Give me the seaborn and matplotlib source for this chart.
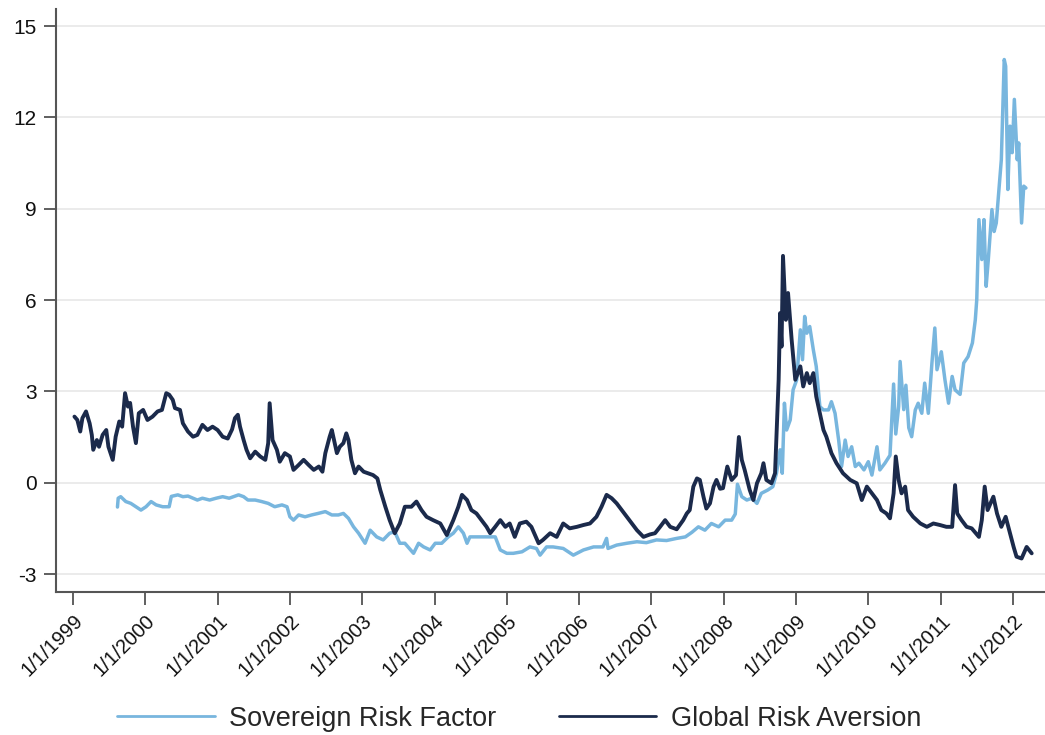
import numpy as np
import pandas as pd
import matplotlib
matplotlib.use("Agg")
import matplotlib.pyplot as plt
import seaborn as sns

# Global Risk Aversion (decimal year, index value)
gra_t = [1999.02, 1999.06, 1999.10, 1999.13, 1999.18, 1999.23, 1999.26, 1999.28, 1999.33, 1999.36,
         1999.41, 1999.46, 1999.49, 1999.55, 1999.59, 1999.64, 1999.68, 1999.72, 1999.76, 1999.79,
         1999.83, 1999.87, 1999.91, 1999.97, 2000.03, 2000.10, 2000.17, 2000.23, 2000.29, 2000.33,
         2000.38, 2000.41, 2000.48, 2000.52, 2000.59, 2000.66, 2000.72, 2000.79, 2000.86, 2000.93,
         2001.00, 2001.07, 2001.14, 2001.20, 2001.24, 2001.28, 2001.31, 2001.36, 2001.40, 2001.45,
         2001.52, 2001.59, 2001.66, 2001.70, 2001.72, 2001.76, 2001.82, 2001.86, 2001.93, 2002.00,
         2002.05, 2002.12, 2002.19, 2002.26, 2002.33, 2002.40, 2002.45, 2002.49, 2002.55, 2002.58,
         2002.62, 2002.65, 2002.69, 2002.74, 2002.78, 2002.81, 2002.85, 2002.90, 2002.95, 2003.02,
         2003.08, 2003.15, 2003.21, 2003.25, 2003.32, 2003.38, 2003.45, 2003.52, 2003.59, 2003.68,
         2003.75, 2003.82, 2003.89, 2003.98, 2004.08, 2004.17, 2004.26, 2004.33, 2004.38, 2004.45,
         2004.51, 2004.58, 2004.65, 2004.72, 2004.77, 2004.84, 2004.91, 2004.98, 2005.04, 2005.11,
         2005.18, 2005.27, 2005.34, 2005.44, 2005.50, 2005.60, 2005.69, 2005.78, 2005.87, 2005.97,
         2006.06, 2006.15, 2006.24, 2006.31, 2006.38, 2006.45, 2006.52, 2006.59, 2006.66, 2006.73,
         2006.80, 2006.89, 2006.98, 2007.05, 2007.12, 2007.19, 2007.26, 2007.35, 2007.44, 2007.49,
         2007.53, 2007.58, 2007.63, 2007.67, 2007.72, 2007.76, 2007.81, 2007.86, 2007.90, 2007.95,
         2007.99, 2008.05, 2008.11, 2008.17, 2008.21, 2008.25, 2008.29, 2008.36, 2008.41, 2008.46,
         2008.52, 2008.55, 2008.59, 2008.66, 2008.71, 2008.76, 2008.78, 2008.80, 2008.82, 2008.86,
         2008.89, 2008.94, 2008.99, 2009.06, 2009.10, 2009.15, 2009.19, 2009.24, 2009.28, 2009.33,
         2009.38, 2009.42, 2009.49, 2009.56, 2009.65, 2009.75, 2009.84, 2009.91, 2009.98, 2010.05,
         2010.12, 2010.18, 2010.25, 2010.30, 2010.35, 2010.38, 2010.42, 2010.46, 2010.51, 2010.55,
         2010.62, 2010.72, 2010.81, 2010.90, 2010.99, 2011.08, 2011.16, 2011.20, 2011.23, 2011.29,
         2011.36, 2011.43, 2011.53, 2011.57, 2011.61, 2011.65, 2011.69, 2011.73, 2011.78, 2011.84,
         2011.90, 2011.96, 2012.01, 2012.05, 2012.12, 2012.19, 2012.26]
gra_v = [2.17, 2.06, 1.68, 2.12, 2.34, 1.95, 1.57, 1.08, 1.40, 1.18,
         1.57, 1.73, 1.18, 0.75, 1.51, 2.01, 1.84, 2.94, 2.50, 2.62,
         1.84, 1.30, 2.28, 2.39, 2.06, 2.17, 2.34, 2.39, 2.94, 2.89,
         2.72, 2.45, 2.39, 1.95, 1.68, 1.51, 1.57, 1.90, 1.73, 1.84,
         1.73, 1.51, 1.45, 1.75, 2.12, 2.23, 1.84, 1.40, 1.08, 0.80,
         1.02, 0.86, 0.75, 1.30, 2.61, 1.40, 1.08, 0.69, 0.97, 0.86,
         0.42, 0.58, 0.75, 0.58, 0.42, 0.53, 0.36, 0.97, 1.51, 1.73,
         1.30, 0.97, 1.18, 1.30, 1.62, 1.40, 0.75, 0.31, 0.53, 0.36,
         0.31, 0.25, 0.14, -0.24, -0.79, -1.23, -1.66, -1.34, -0.79, -0.79,
         -0.62, -0.90, -1.12, -1.23, -1.34, -1.72, -1.23, -0.79, -0.40, -0.57,
         -0.90, -1.01, -1.23, -1.45, -1.66, -1.45, -1.23, -1.45, -1.34, -1.78,
         -1.34, -1.28, -1.45, -1.99, -1.88, -1.66, -1.78, -1.34, -1.50, -1.45,
         -1.39, -1.34, -1.12, -0.79, -0.40, -0.51, -0.68, -0.90, -1.12, -1.34,
         -1.56, -1.78, -1.70, -1.66, -1.45, -1.23, -1.45, -1.53, -1.23, -1.01,
         -0.90, -0.13, 0.14, 0.09, -0.46, -0.85, -0.68, -0.13, 0.09, -0.20,
         -0.18, 0.53, 0.09, 0.25, 1.50, 0.75, 0.42, -0.24, -0.57, -0.02,
         0.31, 0.64, 0.09, -0.02, 0.31, 3.38, 5.57, 4.47, 7.45, 5.35,
         6.23, 4.69, 3.38, 3.82, 3.16, 3.60, 3.27, 3.60, 2.83, 2.28,
         1.73, 1.51, 0.97, 0.64, 0.31, 0.09, -0.02, -0.57, -0.13, -0.35,
         -0.57, -0.90, -1.01, -1.17, -0.35, 0.86, 0.09, -0.35, -0.13, -0.90,
         -1.12, -1.34, -1.45, -1.34, -1.39, -1.45, -1.45, -0.08, -1.01, -1.23,
         -1.45, -1.50, -1.78, -1.23, -0.13, -0.90, -0.68, -0.46, -1.01, -1.45,
         -1.12, -1.66, -2.11, -2.43, -2.49, -2.11, -2.32]

# Sovereign Risk Factor (decimal year, index value)
srf_t = [1999.615, 1999.625, 1999.66, 1999.73, 1999.80, 1999.87, 1999.94, 2000.01, 2000.08, 2000.15,
         2000.24, 2000.33, 2000.36, 2000.45, 2000.52, 2000.59, 2000.66, 2000.72, 2000.79, 2000.89,
         2000.98, 2001.07, 2001.16, 2001.29, 2001.36, 2001.42, 2001.52, 2001.61, 2001.70, 2001.79,
         2001.89, 2001.96, 2002.00, 2002.05, 2002.12, 2002.21, 2002.30, 2002.39, 2002.49, 2002.58,
         2002.67, 2002.74, 2002.81, 2002.88, 2002.95, 2003.04, 2003.11, 2003.20, 2003.29, 2003.38,
         2003.45, 2003.52, 2003.59, 2003.71, 2003.78, 2003.85, 2003.94, 2004.01, 2004.10, 2004.19,
         2004.26, 2004.33, 2004.40, 2004.45, 2004.49, 2004.61, 2004.72, 2004.84, 2004.91, 2005.00,
         2005.09, 2005.21, 2005.32, 2005.41, 2005.46, 2005.55, 2005.64, 2005.78, 2005.92, 2006.06,
         2006.20, 2006.33, 2006.38, 2006.40, 2006.52, 2006.66, 2006.80, 2006.93, 2007.07, 2007.21,
         2007.35, 2007.47, 2007.56, 2007.65, 2007.74, 2007.83, 2007.93, 2008.02, 2008.11, 2008.16,
         2008.19, 2008.25, 2008.32, 2008.39, 2008.46, 2008.52, 2008.61, 2008.68, 2008.73, 2008.78,
         2008.81, 2008.84, 2008.87, 2008.92, 2008.96, 2009.01, 2009.06, 2009.09, 2009.12, 2009.15,
         2009.19, 2009.24, 2009.28, 2009.33, 2009.38, 2009.45, 2009.49, 2009.54, 2009.59, 2009.63,
         2009.68, 2009.72, 2009.77, 2009.82, 2009.87, 2009.94, 2010.00, 2010.05, 2010.12, 2010.16,
         2010.23, 2010.30, 2010.35, 2010.38, 2010.42, 2010.44, 2010.49, 2010.52, 2010.56, 2010.60,
         2010.65, 2010.69, 2010.74, 2010.78, 2010.83, 2010.88, 2010.92, 2010.95, 2011.01, 2011.06,
         2011.11, 2011.16, 2011.20, 2011.27, 2011.32, 2011.38, 2011.44, 2011.48, 2011.50, 2011.53,
         2011.57, 2011.60, 2011.63, 2011.66, 2011.71, 2011.74, 2011.77, 2011.81, 2011.84, 2011.88,
         2011.90, 2011.93, 2011.96, 2011.99, 2012.02, 2012.06, 2012.08, 2012.12, 2012.15, 2012.18]
srf_v = [-0.80, -0.51, -0.46, -0.62, -0.68, -0.79, -0.90, -0.79, -0.62, -0.73,
         -0.79, -0.79, -0.45, -0.40, -0.46, -0.44, -0.51, -0.57, -0.51, -0.57,
         -0.51, -0.46, -0.51, -0.40, -0.46, -0.57, -0.57, -0.62, -0.68, -0.79,
         -0.73, -0.79, -1.12, -1.23, -1.06, -1.12, -1.06, -1.01, -0.95, -1.06,
         -1.06, -1.01, -1.17, -1.45, -1.66, -1.99, -1.56, -1.78, -1.88, -1.66,
         -1.61, -1.99, -1.99, -2.32, -1.99, -2.11, -2.21, -1.99, -1.99, -1.78,
         -1.66, -1.45, -1.66, -1.99, -1.78, -1.78, -1.78, -1.78, -2.21, -2.32,
         -2.32, -2.27, -2.11, -2.16, -2.38, -2.11, -2.11, -2.16, -2.38, -2.21,
         -2.11, -2.11, -1.83, -2.16, -2.05, -1.99, -1.94, -1.97, -1.88, -1.90,
         -1.83, -1.78, -1.63, -1.45, -1.56, -1.34, -1.45, -1.23, -1.23, -1.03,
         -0.05, -0.46, -0.57, -0.51, -0.68, -0.35, -0.24, -0.13, 0.31, 1.08,
         0.31, 2.61, 1.73, 2.06, 3.05, 3.38, 5.02, 4.04, 5.46, 4.91,
         5.13, 4.36, 3.82, 2.50, 2.39, 2.39, 2.66, 2.28, 1.40, 0.53,
         1.40, 0.86, 1.18, 0.53, 0.64, 0.42, 0.69, 0.25, 1.18, 0.42,
         0.64, 0.90, 3.24, 1.60, 2.50, 3.98, 2.40, 3.20, 1.80, 1.51,
         2.39, 2.61, 2.28, 3.27, 2.28, 3.93, 5.08, 3.71, 4.30, 3.38,
         2.61, 3.49, 3.05, 2.90, 3.93, 4.14, 4.59, 5.35, 6.01, 8.64,
         7.33, 8.64, 6.45, 7.33, 8.97, 8.25, 8.53, 9.74, 10.61, 13.90,
         13.68, 9.63, 11.71, 10.84, 12.59, 10.61, 11.16, 8.53, 9.74, 9.68]

series_names = ["Sovereign Risk Factor", "Global Risk Aversion"]
series_colors = ["#78b6de", "#1b2a4b"]
y_ticks = [-3, 0, 3, 6, 9, 12, 15]
x_years = list(range(1999, 2013))
x_tick_labels = [f"1/1/{y}" for y in x_years]

df = pd.concat([
    pd.DataFrame({"date": srf_t, "value": srf_v, "series": series_names[0]}),
    pd.DataFrame({"date": gra_t, "value": gra_v, "series": series_names[1]}),
], ignore_index=True)

sns.set_theme(style="white")
plt.rcParams["font.family"] = ["Liberation Sans", "DejaVu Sans"]

fig = plt.figure(figsize=(10.45, 7.35), dpi=100)
ax = fig.add_axes([0.0536, 0.195, 0.9464, 0.7928])

# light horizontal reference lines at each labelled value
for ytk in y_ticks:
    ax.axhline(ytk, color="#ebebeb", lw=1.4, zorder=0)

sns.lineplot(data=df, x="date", y="value", hue="series", hue_order=series_names,
             palette=dict(zip(series_names, series_colors)), estimator=None, sort=False,
             linewidth=2.5, ax=ax, legend=False)
ax.lines[-1].set_linewidth(2.8)

ax.set_xlim(1998.765, 2012.444)
ax.set_ylim(-3.58, 15.56)
ax.set_yticks(y_ticks)
ax.set_yticklabels([str(v) for v in y_ticks], fontsize=15, color="#111111")
ax.set_xticks(x_years)
ax.set_xticklabels(x_tick_labels, rotation=45, ha="right", rotation_mode="anchor",
                   fontsize=14.5, color="#111111")
ax.set_xlabel("")
ax.set_ylabel("")

for side in ["top", "right"]:
    ax.spines[side].set_visible(False)
for side in ["left", "bottom"]:
    ax.spines[side].set_color("#555555")
    ax.spines[side].set_linewidth(1.5)
ax.tick_params(axis="both", which="major", length=9, width=1.2, color="#444444",
               direction="out", bottom=True, left=True, pad=5)

handles = [plt.Line2D([], [], color=c, lw=2.0) for c in series_colors]
fig.legend(handles, series_names, loc="center", bbox_to_anchor=(0.497, 0.022), ncol=2,
           frameon=False, fontsize=19.5, handlelength=3.6, handletextpad=0.55,
           columnspacing=2.3)

fig.savefig("out.png", dpi=100, facecolor="white")
